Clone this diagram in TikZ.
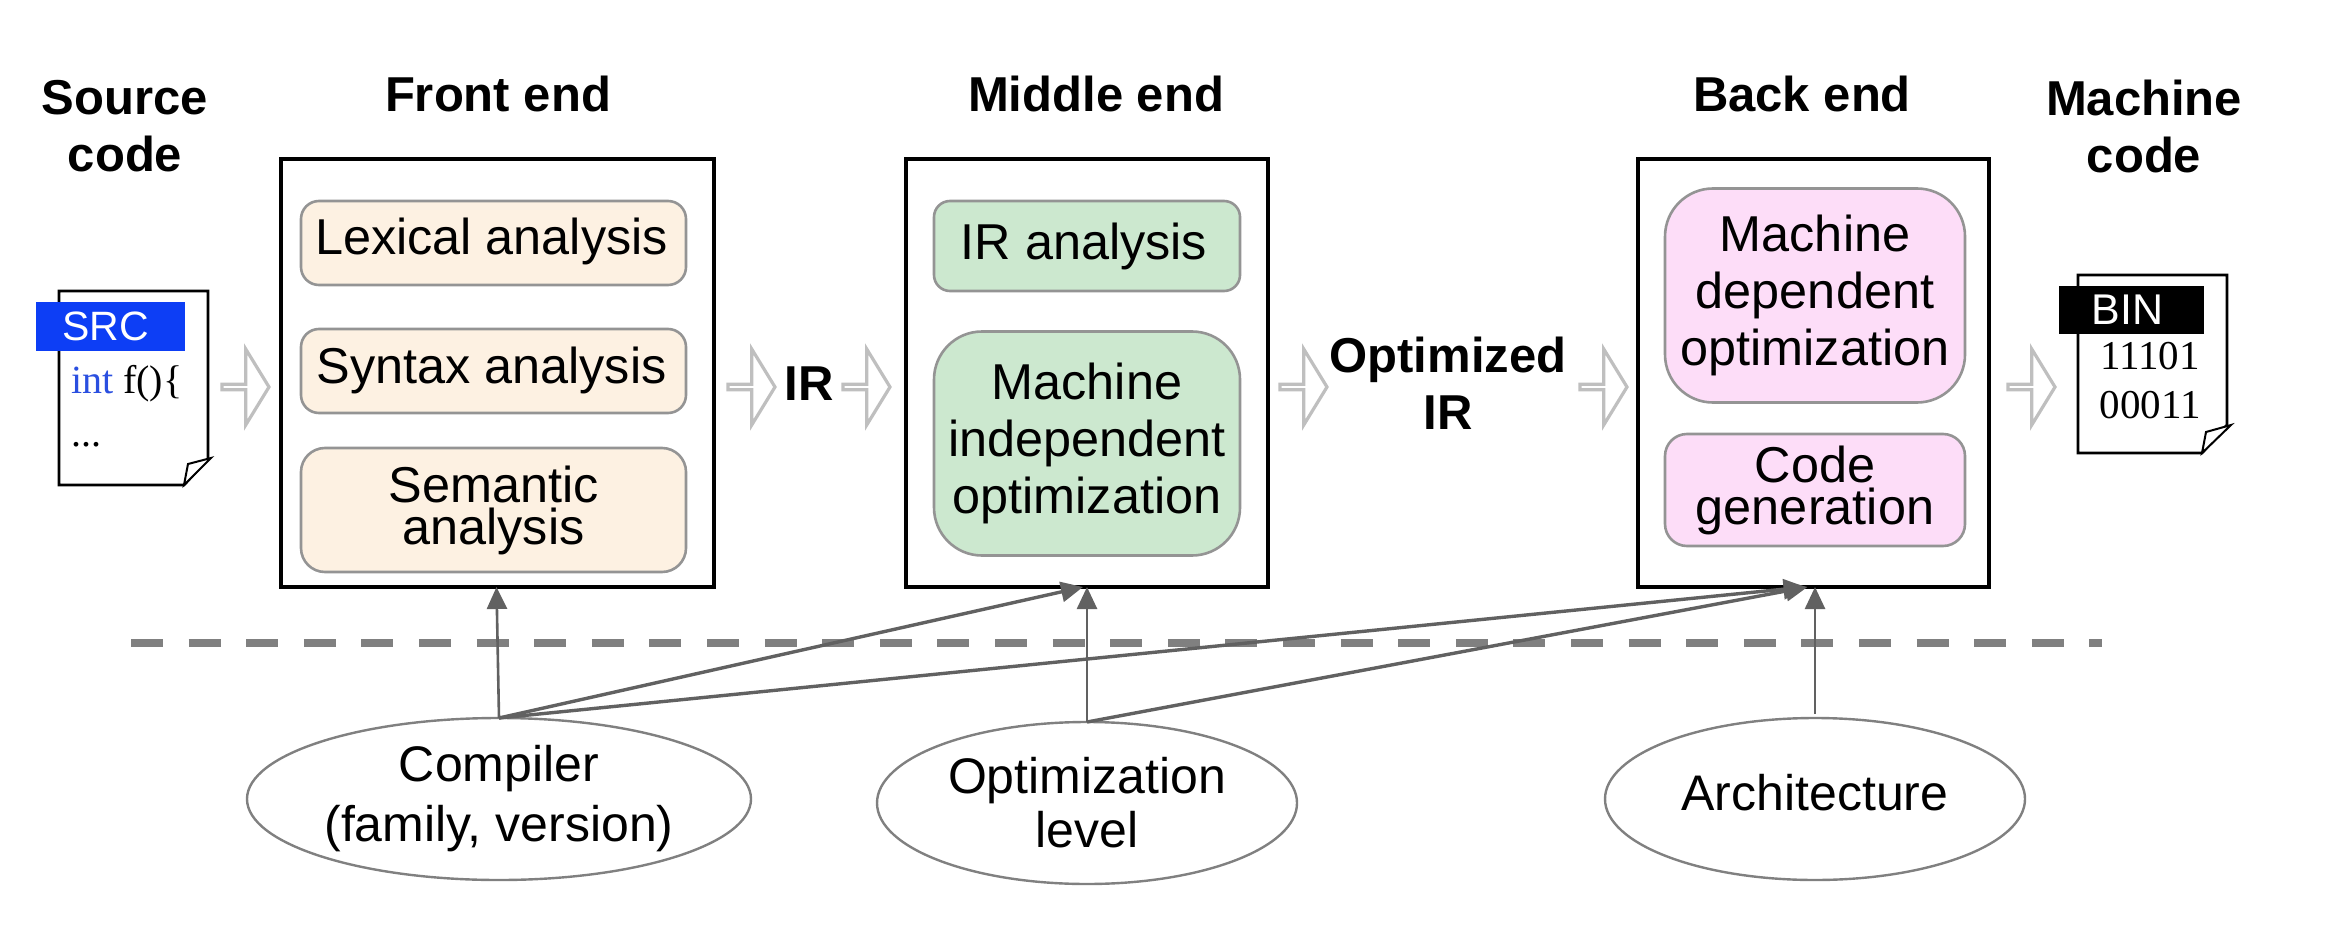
\documentclass[tikz,border=0pt]{standalone}
\usepackage{fontspec}
\setmainfont{Liberation Sans}
\newfontfamily\docfont{Liberation Serif}
\usepackage{tikz}
\usetikzlibrary{arrows.meta,shapes.geometric,shapes.arrows}
\definecolor{frontfill}{HTML}{FDF1E2}
\definecolor{midfill}{HTML}{CCE8CF}
\definecolor{backfill}{HTML}{FDDDF8}
\definecolor{srcblue}{HTML}{0D3EF5}
\definecolor{intblue}{HTML}{2A4FE0}
\begin{document}
\begin{tikzpicture}[x=0.5pt, y=-0.5pt, inner sep=0pt, outer sep=0pt, align=center]
    \tikzstyle{head}=[font=\bfseries\fontsize{24.5}{28.5}\selectfont, text=black]
    \tikzstyle{stage}=[rectangle, draw=black, line width=1.7pt, fill=white]
    \tikzstyle{pass}=[rectangle, draw=black!42, line width=1.3pt, font=\fontsize{25.2}{21}\selectfont, text=black]
    \tikzstyle{factor}=[ellipse, draw=black!50, line width=1.2pt, fill=white, font=\fontsize{25}{28}\selectfont]
    \tikzstyle{flow}=[single arrow, draw=black!25, line width=1.6pt, fill=white, minimum height=23.5pt, minimum width=38pt, single arrow tip angle=117, single arrow head extend=10pt, anchor=tail]
    \tikzstyle{dep}=[->, >={Triangle[length=11pt,width=10pt]}, draw=black!62, line width=1.3pt]
    \tikzstyle{depb}=[->, >={Triangle[length=11pt,width=10pt]}, draw=black!62, line width=1.7pt]
    \tikzstyle{doc}=[draw=black, line width=1.4pt, fill=white, line join=miter]
    \tikzstyle{fold}=[draw=black, line width=1pt, fill=white]
    \useasboundingbox (0,0) rectangle (2332,936);

    \node[head] (srchead) at (125,126) {Source\\code};
    \node[head] (fronthead) at (498,94) {Front end};
    \node[head] (midhead) at (1096,94) {Middle end};
    \node[head] (backhead) at (1802,94) {Back end};
    \node[head] (binhead) at (2144,126) {Machine\\code};

    % three stages
    \node[stage, minimum width=216.5pt, minimum height=214pt] (frontbox) at (497.5,373) {};
    \node[stage, minimum width=181pt, minimum height=214pt] (midbox) at (1087,373) {};
    \node[stage, minimum width=175.5pt, minimum height=214pt] (backbox) at (1813.5,373) {};

    \node[pass, fill=frontfill, rounded corners=9pt, minimum width=192.5pt, minimum height=42pt] (lexical) at (493.5,243) {\raisebox{7pt}{\hspace*{-2pt}Lexical analysis}};
    \node[pass, fill=frontfill, rounded corners=9pt, minimum width=192.5pt, minimum height=42pt] (syntax) [below of=lexical, node distance=64pt] {\raisebox{5.5pt}{\hspace*{-2pt}Syntax analysis}};
    \node[pass, fill=frontfill, rounded corners=12pt, minimum width=192.5pt, minimum height=62pt] (semantic) [below of=syntax, node distance=69.5pt] {Semantic\\analysis};

    \node[pass, fill=midfill, rounded corners=8pt, minimum width=153pt, minimum height=45pt] (iranalysis) at (1087,246) {\raisebox{4pt}{\hspace*{-3pt}IR analysis}};
    \node[pass, fill=midfill, rounded corners=24pt, minimum width=153pt, minimum height=112pt, font=\fontsize{25.2}{28.5}\selectfont] (machindep) at (1087,443.5) {Machine\\independent\\optimization};

    \node[pass, fill=backfill, rounded corners=24pt, minimum width=150pt, minimum height=107pt, font=\fontsize{25.2}{28.5}\selectfont] (machdep) at (1815,295.5) {Machine\\dependent\\optimization};
    \node[pass, fill=backfill, rounded corners=11pt, minimum width=150pt, minimum height=56pt] (codegen) at (1815,490) {Code\\generation};

    % source and binary pages
    \draw[doc] (59,291) -- (208,291) -- (208,459) -- (184,485) -- (59,485) -- cycle;
    \draw[fold] (184,485) -- (188,464) -- (211,458) -- cycle;
    \draw[doc] (2078,275) -- (2227,275) -- (2227,425) -- (2202,453) -- (2078,453) -- cycle;
    \draw[fold] (2202,453) -- (2206,432) -- (2231,425) -- cycle;
    \node[fill=srcblue, text=white, minimum width=74.5pt, minimum height=24.5pt, font=\fontsize{20.5}{21}\selectfont] (src) at (110.5,326.5) {\hspace*{-5pt}SRC};
    \node[fill=black, text=white, minimum width=72.5pt, minimum height=24pt, font=\fontsize{21.5}{22}\selectfont] (bin) at (2131.5,310) {\hspace*{-4pt}BIN};
    \node[anchor=west, font=\docfont\fontsize{20}{20}\selectfont] (srcline) at (71,384) {\textcolor{intblue}{int} f()\{};
    \node[anchor=west, font=\docfont\fontsize{20}{20}\selectfont] (srcdots) at (71,445) {...};
    \node[font=\docfont\fontsize{20.5}{21}\selectfont] (binone) at (2150,356) {11101};
    \node[font=\docfont\fontsize{20.5}{21}\selectfont] (bintwo) at (2150,405) {00011};

    % hollow arrows and what flows between stages
    \foreach \flowx/\flowname in {222/fa,728/fb,843/fc,1280/fd,1580/fe,2008/ff}
        \node[flow] (\flowname) at (\flowx,387) {};
    \node[head] (ir) at (809,384) {IR};
    \node[head] (optir) at (1448,383) {Optimized\\IR};

    \draw[draw=black!50, line width=4pt, dash pattern=on 16pt off 12.8pt] (131,643) -- (2102,643);

    \node[factor, minimum width=252pt, minimum height=81pt] (compiler) at (499,799) {\raisebox{.5pt}{Compiler}\\[1.5pt](family, version)};
    \node[factor, minimum width=210pt, minimum height=81pt] (optlevel) at (1087,803) {Optimization\\[-1pt]level};
    \node[factor, minimum width=210pt, minimum height=81pt] (arch) at (1815,799) {\raisebox{6.5pt}{Architecture}};

    \draw[dep] (compiler.north) to ([xshift=-0.5pt] frontbox.south);
    \draw[depb] (compiler.north) to ([xshift=-2pt] midbox.south);
    \draw[depb] (compiler.north) to ([xshift=-4pt] backbox.south);
    \draw[dep] (optlevel.north) to (midbox.south);
    \draw[depb] (optlevel.north) to ([xshift=-3pt] backbox.south);
    \draw[dep] ([yshift=2pt] arch.north) to ([xshift=0.75pt] backbox.south);
\end{tikzpicture}
\end{document}
